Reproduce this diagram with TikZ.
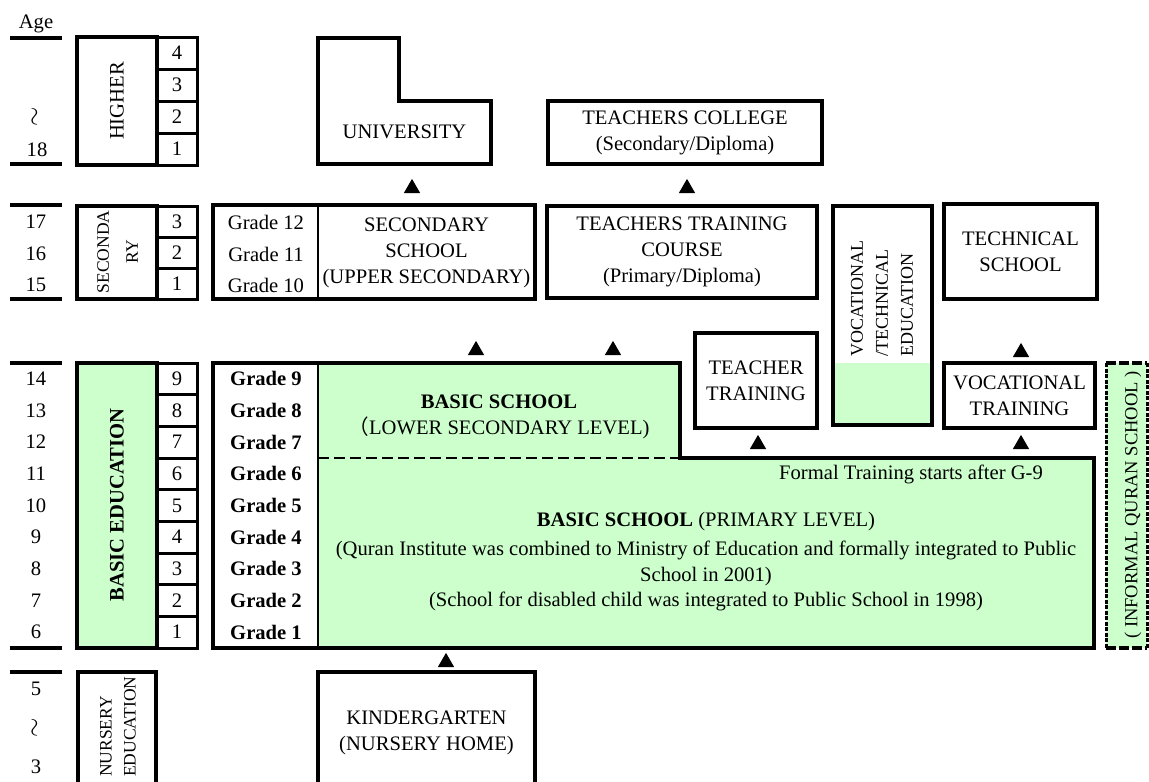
\documentclass[tikz,border=0pt]{standalone}
\usepackage{fontspec}
\setmainfont{Liberation Serif}
\newfontfamily\cjkfont{Noto Sans CJK JP}
\usetikzlibrary{shapes.geometric}
\definecolor{lgreen}{HTML}{CCFFCC}

% framed box given by its corners: [options]{name}{x1}{y1}{x2}{y2}{text}
\newcommand\Rbox[7][]{%
  \pgfmathsetmacro\rbW{#5-#3}\pgfmathsetmacro\rbH{#6-#4}%
  \pgfmathsetmacro\rbX{(#3+#5)/2}\pgfmathsetmacro\rbY{(#4+#6)/2}%
  \node[frame, minimum width=\rbW pt, minimum height=\rbH pt, align=center, #1]
    (#2) at (\rbX,\rbY) {#7};}
% upward marker triangle centred on (x,y)
\newcommand\UpTri[3]{\node[tri] (#1) at (#2,{#3+2.4}) {};}

\begin{document}
\begin{tikzpicture}[x=1pt,y=-1pt,
  every node/.style={font=\fontsize{20.6}{26}\selectfont, inner sep=0pt},
  frame/.style={draw, line width=4pt},
  cellbox/.style={line width=3pt},
  agebar/.style={line width=4pt},
  tri/.style={regular polygon, regular polygon sides=3, fill=black,
    minimum size=19pt, inner sep=0pt},
  vtext/.style={rotate=90, align=center},
  wave/.style={rotate=90, font=\fontsize{26}{26}\selectfont}]
\useasboundingbox (0,0) rectangle (1149,782);

% ---------------- age column ----------------
\node (age) at (36,24) {Age};
\foreach \y in {38,164,205,299,363,648,672}
  \draw[agebar] (10,\y) -- (62,\y);
\node[wave] (ahi) at (36,117) {$\sim$};
\node (a18) at (37,150) {18};
\node (a17) at (36,222) {17};
\node (a16) at (36,254) {16};
\node (a15) at (36,285) {15};
\foreach \a [count=\k from 0] in {14,13,...,6}
  \node (a\a) at (36,{363+31.667*(\k+0.5)}) {\a};
\node (a5) at (36,689) {5};
\node[wave] (anu) at (36,728) {$\sim$};
\node (a3) at (36,767) {3};

% ---------------- stage column ----------------
\Rbox{higher}{77}{37}{157}{165}{}
\node[vtext] (higherT) at (117,101) {HIGHER};
\foreach \n [count=\k from 0] in {4,3,2,1}{
  \pgfmathsetmacro\ya{37+32*\k}\pgfmathsetmacro\yb{\ya+32}
  \Rbox[cellbox]{hy\n}{157}{\ya}{197}{\yb}{\n}}

\Rbox{second}{77}{206}{157}{299}{}
\node[vtext, font=\fontsize{17.5}{29}\selectfont] (secondT) at (117.5,252) {SECONDA\\RY};
\foreach \n [count=\k from 0] in {3,2,1}{
  \pgfmathsetmacro\ya{206+31*\k}\pgfmathsetmacro\yb{\ya+31}
  \Rbox[cellbox]{sy\n}{157}{\ya}{197}{\yb}{\n}}

\Rbox[fill=lgreen]{basicEd}{77}{363}{157}{648}{}
\node[vtext] (basicEdT) at (117,505) {\textbf{BASIC EDUCATION}};
\foreach \n [count=\k from 0] in {9,8,...,1}{
  \pgfmathsetmacro\ya{363+31.667*\k}\pgfmathsetmacro\yb{\ya+31.667}
  \Rbox[cellbox,fill=white]{by\n}{157}{\ya}{197}{\yb}{\n}}

\draw[frame] (78,790) -- (78,672) -- (156,672) -- (156,790);
\node[rotate=90, align=left, anchor=west, font=\fontsize{17.5}{24}\selectfont]
  (nurseryT) at (118,777) {NURSERY\\EDUCATION};

% ---------------- higher education ----------------
\draw[frame] (318,38) -- (399,38) -- (399,101) -- (491,101) -- (491,164) -- (318,164) -- cycle;
\node (univ) at (404.5,132) {UNIVERSITY};
\Rbox{college}{548}{101}{822}{164}{TEACHERS COLLEGE\\(Secondary/Diploma)}
\UpTri{upU}{412}{186}
\UpTri{upC}{687}{186}

% ---------------- upper secondary ----------------
\Rbox{upper}{213}{205}{535}{299}{}
\draw[line width=2.5pt] (318,205) -- (318,299);
\node (g12) at (266,222) {Grade 12};
\node (g11) at (266,254) {Grade 11};
\node (g10) at (266,285) {Grade 10};
\node[align=center] (upperT) at (426.5,253) {SECONDARY\\SCHOOL\\(UPPER SECONDARY)};
\Rbox{course}{547}{206}{817}{298}{TEACHERS TRAINING\\COURSE\\(Primary/Diploma)}

\fill[lgreen] (833,363) rectangle (932,425);
\Rbox{voctech}{833}{206}{932}{425}{}
\node[rotate=90, align=left, anchor=west, font=\fontsize{18}{25}\selectfont]
  (voctechT) at (882,357) {VOCATIONAL\\/TECHNICAL\\EDUCATION};
\Rbox{techSch}{944}{204}{1097}{299}{TECHNICAL\\SCHOOL}

\UpTri{upS1}{476}{348}
\UpTri{upS2}{613}{348}
\UpTri{upT}{1021}{350}

% ---------------- training after grade 9 ----------------
\Rbox{teachTr}{695}{333}{817}{428}{TEACHER\\TRAINING}
\Rbox{vocTr}{944}{363}{1095}{428}{VOCATIONAL\\TRAINING}
\UpTri{upTT}{758}{442}
\UpTri{upVT}{1021}{442}

% ---------------- basic school ----------------
\fill[lgreen] (318,363) -- (680,363) -- (680,458) -- (1094,458) -- (1094,648) -- (318,648) -- cycle;
\draw[frame] (213,363) -- (680,363) -- (680,458) -- (1094,458) -- (1094,648) -- (213,648) -- cycle;
\draw[line width=2.5pt] (318,363) -- (318,648);
\draw[line width=2pt, dash pattern=on 11pt off 5pt] (318,458) -- (680,458);
\foreach \n [count=\k from 0] in {9,8,...,1}
  \node (gr\n) at (266,{363+31.667*(\k+0.5)}) {\textbf{Grade \n}};
\node[align=center] (lowerT) at (499,417)
  {\textbf{BASIC SCHOOL}\\{\cjkfont （}LOWER SECONDARY LEVEL)};
\node[anchor=east] (formalT) at (1043,474) {Formal Training starts after G-9};
\node (primT) at (706,522) {\textbf{BASIC SCHOOL} (PRIMARY LEVEL)};
\node[align=center] (quranT) at (706,563)
  {(Quran Institute was combined to Ministry of Education and formally integrated to Public\\School in 2001)};
\node (disabT) at (706,601) {(School for disabled child was integrated to Public School in 1998)};

% informal Quran school
\fill[lgreen] (1106,363) rectangle (1147,648);
\draw[line width=3.5pt, dash pattern=on 10pt off 3pt] (1106,363) -- (1147,363);
\draw[line width=3.5pt, dash pattern=on 10pt off 3pt] (1106,648) -- (1147,648);
\draw[line width=3pt, dash pattern=on 4pt off 1.5pt] (1106,363) -- (1106,648);
\draw[line width=3pt, dash pattern=on 4pt off 1.5pt] (1147,363) -- (1147,648);
\node[rotate=90, font=\fontsize{18.5}{22}\selectfont] (informalT) at (1133,505) {( INFORMAL QURAN SCHOOL )};

% ---------------- kindergarten ----------------
\UpTri{upK}{446}{660}
\draw[frame] (318,790) -- (318,672) -- (535,672) -- (535,790);
\node[align=center] (kinderT) at (426.5,733) {KINDERGARTEN\\(NURSERY HOME)};
\end{tikzpicture}
\end{document}
